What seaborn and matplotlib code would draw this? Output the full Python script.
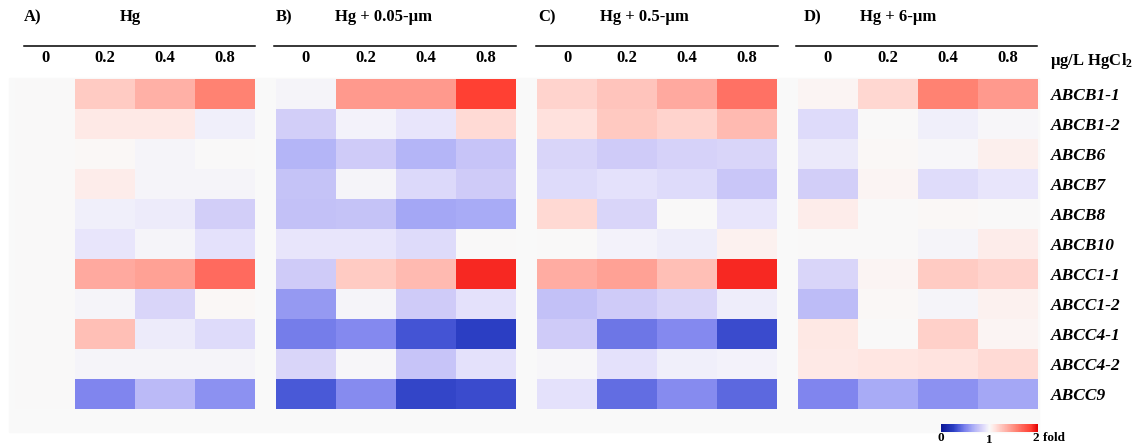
import numpy as np
import pandas as pd
import matplotlib
import matplotlib.pyplot as plt
import seaborn as sns
from matplotlib.colors import LinearSegmentedColormap
from matplotlib.patches import Rectangle
from matplotlib.lines import Line2D

# data: fold change relative to control (1 = no change)
genes = ['ABCB1-1', 'ABCB1-2', 'ABCB6', 'ABCB7', 'ABCB8', 'ABCB10',
         'ABCC1-1', 'ABCC1-2', 'ABCC4-1', 'ABCC4-2', 'ABCC9']
doses = ['0', '0.2', '0.4', '0.8']
panel_letters = ['A)', 'B)', 'C)', 'D)']
panel_titles = ['Hg', 'Hg + 0.05-µm', 'Hg + 0.5-µm', 'Hg + 6-µm']

fold_hg = [[1.00, 1.22, 1.35, 1.55],
           [1.00, 1.08, 1.08, 0.96],
           [1.00, 1.01, 0.98, 1.00],
           [1.00, 1.07, 0.98, 0.98],
           [1.00, 0.96, 0.94, 0.82],
           [1.00, 0.92, 0.98, 0.90],
           [1.00, 1.38, 1.42, 1.65],
           [1.00, 0.98, 0.85, 1.01],
           [1.00, 1.28, 0.94, 0.87],
           [1.00, 0.98, 0.98, 0.98],
           [1.00, 0.50, 0.72, 0.55]]

fold_005 = [[0.98, 1.45, 1.45, 1.85],
            [0.82, 0.97, 0.92, 1.15],
            [0.70, 0.80, 0.70, 0.77],
            [0.76, 0.98, 0.86, 0.80],
            [0.75, 0.76, 0.64, 0.65],
            [0.92, 0.92, 0.87, 1.00],
            [0.80, 1.22, 1.30, 1.90],
            [0.58, 0.98, 0.80, 0.90],
            [0.47, 0.52, 0.33, 0.25],
            [0.85, 0.99, 0.77, 0.90],
            [0.35, 0.53, 0.28, 0.30]]

fold_05 = [[1.18, 1.25, 1.38, 1.62],
           [1.12, 1.23, 1.18, 1.30],
           [0.85, 0.80, 0.83, 0.85],
           [0.87, 0.90, 0.87, 0.78],
           [1.16, 0.85, 1.00, 0.92],
           [1.00, 0.97, 0.95, 1.04],
           [1.36, 1.42, 1.28, 1.90],
           [0.75, 0.80, 0.85, 0.95],
           [0.80, 0.45, 0.52, 0.30],
           [0.99, 0.90, 0.96, 0.97],
           [0.90, 0.42, 0.53, 0.40]]

fold_6 = [[1.03, 1.17, 1.55, 1.45],
          [0.87, 1.00, 0.96, 0.99],
          [0.93, 1.01, 0.99, 1.05],
          [0.82, 1.03, 0.88, 0.92],
          [1.07, 1.00, 1.01, 1.00],
          [1.00, 1.00, 0.98, 1.07],
          [0.85, 1.03, 1.22, 1.18],
          [0.73, 1.01, 0.98, 1.04],
          [1.09, 1.00, 1.20, 1.03],
          [1.08, 1.10, 1.11, 1.15],
          [0.50, 0.65, 0.55, 0.64]]

panels = [fold_hg, fold_005, fold_05, fold_6]

# blue - white - red colour scale, 0 to 2 fold
nodes = [(0.0, '#0b1796'), (0.25, '#2b3ec3'), (0.35, '#4b5ad8'), (0.5, '#7f85ee'),
         (0.65, '#a8abf6'), (0.8, '#cfcbf8'), (0.9, '#e4e1fb'), (1.0, '#f9f9f9'),
         (1.1, '#ffe6e2'), (1.2, '#ffd0c9'), (1.3, '#ffbab1'), (1.4, '#ffa59a'),
         (1.55, '#ff8373'), (1.65, '#ff6b5f'), (1.85, '#ff4033'), (1.9, '#f82a24'),
         (2.0, '#e00000')]
cmap = LinearSegmentedColormap.from_list('fold', [(v / 2, c) for v, c in nodes])

plt.rcParams['font.family'] = 'Liberation Serif'
plt.rcParams['font.weight'] = 'bold'
plt.rcParams['mathtext.fontset'] = 'custom'
plt.rcParams['mathtext.rm'] = 'Liberation Serif:bold'
plt.rcParams['mathtext.it'] = 'Liberation Serif:bold'
plt.rcParams['mathtext.bf'] = 'Liberation Serif:bold'

W, H = 1136, 447
fig = plt.figure(figsize=(W / 100, H / 100), dpi=100)


def box(x0, y0, x1, y1):
    return [x0 / W, 1 - y1 / H, (x1 - x0) / W, (y1 - y0) / H]


def ftext(x, y, s, **kw):
    fig.text(x / W, 1 - y / H, s, **kw)


# light grey backdrop behind the heatmaps
fig.patches.append(Rectangle((9 / W, 1 - 432 / H), 1030 / W, 354 / H,
                             transform=fig.transFigure, color='#f9f9f9', zorder=-5))

panel_x = [15, 276, 537, 798]
line_x = [(24, 255), (274, 516), (536, 778), (796, 1037)]
letter_x = [24, 276, 538, 804]
title_x = [120, 335, 600, 860]

for i, vals in enumerate(panels):
    x0 = panel_x[i]
    ax = fig.add_axes(box(x0, 79, x0 + 240, 409))
    df = pd.DataFrame(vals, index=genes, columns=doses)
    sns.heatmap(df, ax=ax, cmap=cmap, vmin=0, vmax=2, cbar=False,
                xticklabels=doses, yticklabels=genes if i == 3 else False)
    ax.patch.set_visible(False)
    ax.xaxis.tick_top()
    ax.tick_params(axis='x', length=0, pad=9, labelsize=12)
    ax.set_xticklabels(doses, rotation=0, fontweight='bold')
    ax.set_xlabel('')
    ax.set_ylabel('')
    if i == 3:
        ax.yaxis.tick_right()
        ax.tick_params(axis='y', length=0, pad=9)
        ax.set_yticklabels(genes, rotation=0, fontsize=12.5, fontweight='bold',
                           fontstyle='italic', ha='left')
    else:
        ax.tick_params(axis='y', length=0)

    fig.lines.append(Line2D([line_x[i][0] / W, line_x[i][1] / W], [1 - 46 / H, 1 - 46 / H],
                            transform=fig.transFigure, color='black', lw=1.1))
    ftext(letter_x[i], 17, panel_letters[i], fontsize=12, fontweight='bold', va='center')
    ftext(title_x[i], 17, panel_titles[i], fontsize=12, fontweight='bold', va='center')

ftext(1050, 61, 'µg/L HgCl$_2$', fontsize=12, fontweight='bold', va='center')

# colour scale
cax = fig.add_axes(box(941, 424, 1038, 432))
sm = matplotlib.cm.ScalarMappable(cmap=cmap, norm=plt.Normalize(0, 2))
cb = fig.colorbar(sm, cax=cax, orientation='horizontal')
cb.outline.set_visible(False)
cax.set_xticks([])
ftext(941, 438, '0', fontsize=9.5, fontweight='bold', ha='center', va='center')
ftext(989, 440, '1', fontsize=9.5, fontweight='bold', ha='center', va='center')
ftext(1033, 438, '2 fold', fontsize=9.5, fontweight='bold', ha='left', va='center')

fig.savefig('out.png', dpi=100)
